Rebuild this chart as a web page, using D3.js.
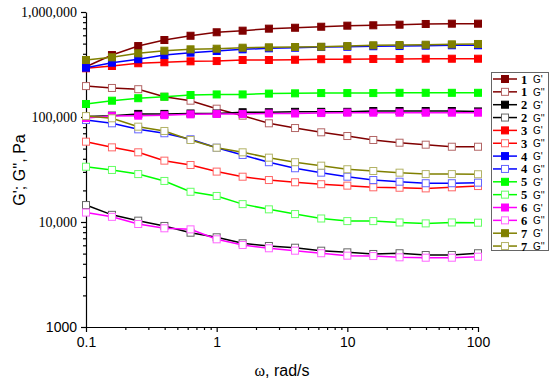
<html>
  <head>
    <script src="https://d3js.org/d3.v7.min.js"></script>
    <style>
      body { margin: 0; background: #fff; }
    </style>
  </head>
  <body>
    <div id="dataviz"></div>
    <script>
      // angular frequency, rad/s
      var omega = [0.1, 0.158, 0.251, 0.398, 0.631, 1, 1.58, 2.51, 3.98, 6.31, 10, 15.8, 25.1, 39.8, 63.1, 100];

      var sampleIds = ["1", "2", "3", "4", "5", "6", "7"];
      var sampleColors = ["#800000", "#000000", "#ff0000", "#0000ff", "#00ff00", "#ff00ff", "#808000"];

      // storage modulus G'
      var gPrime1 = [301000, 389000, 474000, 541000, 594000, 641000, 664000, 694000, 708000, 724000, 741000, 747000, 757000, 769000, 774000, 774000];
      var gPrime2 = [101000, 103000, 107000, 107000, 108000, 108000, 111000, 111000, 112000, 112000, 112000, 114000, 114000, 114000, 114000, 113000];
      var gPrime3 = [291000, 306000, 325000, 332000, 339000, 341000, 349000, 349000, 351000, 355000, 355000, 357000, 357000, 359000, 359000, 359000];
      var gPrime4 = [295000, 329000, 355000, 389000, 410000, 425000, 441000, 451000, 457000, 464000, 467000, 472000, 474000, 478000, 482000, 482000];
      var gPrime5 = [133000, 143000, 151000, 156000, 162000, 164000, 164000, 167000, 168000, 169000, 169000, 169000, 170000, 170000, 170000, 170000];
      var gPrime6 = [97700, 102000, 103000, 104000, 106000, 107000, 107000, 108000, 108000, 109000, 110000, 110000, 110000, 110000, 110000, 110000];
      var gPrime7 = [349000, 370000, 404000, 428000, 441000, 447000, 457000, 461000, 464000, 467000, 474000, 482000, 485000, 488000, 492000, 496000];

      // loss modulus G''
      var gDouble1 = [197000, 189000, 184000, 156000, 143000, 120000, 103000, 87100, 78500, 71500, 65900, 60400, 56900, 54500, 52100, 52100];
      var gDouble2 = [14500, 11700, 10300, 9170, 7910, 7150, 6270, 5910, 5690, 5330, 5140, 4960, 5040, 4850, 4850, 5040];
      var gDouble3 = [58200, 51400, 46100, 38400, 34900, 30200, 27000, 25100, 23900, 22900, 22200, 21400, 21200, 20900, 21400, 22000];
      var gDouble4 = [93600, 87100, 76300, 70000, 61400, 51000, 43500, 37100, 32500, 29500, 27000, 25100, 24200, 23400, 23400, 23700];
      var gDouble5 = [33600, 31300, 28600, 24600, 19400, 17700, 14800, 13200, 11900, 10800, 10200, 10200, 9900, 9700, 9900, 9850];
      var gDouble6 = [12300, 11200, 9570, 8710, 8510, 6840, 6040, 5620, 5330, 5040, 4780, 4740, 4610, 4570, 4570, 4670];
      var gDouble7 = [102000, 97200, 80900, 73600, 60400, 51000, 46100, 41000, 37100, 34400, 31800, 30600, 29500, 28600, 28600, 28500];

      var gPrime = [gPrime1, gPrime2, gPrime3, gPrime4, gPrime5, gPrime6, gPrime7];
      var gDouble = [gDouble1, gDouble2, gDouble3, gDouble4, gDouble5, gDouble6, gDouble7];

      var xMajorTicks = [0.1, 1, 10, 100];
      var xTickLabels = ["0.1", "1", "10", "100"];
      var yMajorTicks = [1000, 10000, 100000, 1000000];
      var yTickLabels = ["1000", "10,000", "100,000", "1,000,000"];

      var W = 550, H = 381;
      var svg = d3.select("#dataviz").append("svg")
        .attr("width", W).attr("height", H);

      var x = d3.scaleLog().domain([0.1, 100]).range([86, 478]);
      var y = d3.scaleLog().domain([1000, 1000000]).range([327, 12]);

      function minors(lo, hi) {
        var out = [];
        for (var d = lo; d < hi; d *= 10) {
          for (var k = 2; k <= 9; k++) out.push(d * k);
        }
        return out;
      }

      // x axis
      svg.append("g")
        .attr("transform", "translate(0,327)")
        .call(d3.axisBottom(x).tickValues(minors(0.1, 100)).tickSize(3).tickFormat(""))
        .call(function(g) { g.select(".domain").remove(); });
      var xAxis = svg.append("g")
        .attr("transform", "translate(0,327)")
        .call(d3.axisBottom(x).tickValues(xMajorTicks).tickSizeInner(5).tickSizeOuter(0)
          .tickFormat(function(d, i) { return xTickLabels[i]; }));
      xAxis.selectAll("text")
        .attr("y", 10)
        .style("font-family", "Arial, 'Liberation Sans', sans-serif")
        .style("font-size", "14px")
        .attr("fill", "#000");

      // y axis
      svg.append("g")
        .attr("transform", "translate(86,0)")
        .call(d3.axisLeft(y).tickValues(minors(1000, 1000000)).tickSize(3).tickFormat(""))
        .call(function(g) { g.select(".domain").remove(); });
      var yAxis = svg.append("g")
        .attr("transform", "translate(86,0)")
        .call(d3.axisLeft(y).tickValues(yMajorTicks).tickSizeInner(5).tickSizeOuter(0)
          .tickFormat(function(d, i) { return yTickLabels[i]; }));
      yAxis.selectAll("text")
        .attr("x", -9)
        .attr("fill", "#000")
        .style("font-size", "14px")
        .style("font-family", function(d) {
          return d === 1000 ? "Arial, 'Liberation Sans', sans-serif" : "'Times New Roman', 'Liberation Serif', serif";
        });
      svg.selectAll(".domain, .tick line").attr("stroke", "#000").attr("stroke-width", 1.2);

      // axis titles
      svg.append("text")
        .attr("transform", "translate(25,170) rotate(-90)")
        .attr("text-anchor", "middle")
        .style("font-family", "Arial, 'Liberation Sans', sans-serif")
        .style("font-size", "16px")
        .text("G'; G'', Pa");

      var xt = svg.append("text")
        .attr("x", 282).attr("y", 376)
        .attr("text-anchor", "middle")
        .style("font-size", "16px");
      xt.append("tspan").style("font-family", "'Times New Roman', 'Liberation Serif', serif").text("ω");
      xt.append("tspan").style("font-family", "Arial, 'Liberation Sans', sans-serif").text(", rad/s");

      function light(c) { return d3.interpolateRgb(c, "#fff")(0.4); }

      var line = d3.line()
        .x(function(d, i) { return x(omega[i]); })
        .y(function(d) { return y(d); });

      var ms = 7;
      function drawSeries(vals, color, open) {
        var g = svg.append("g");
        g.append("path")
          .datum(vals)
          .attr("fill", "none")
          .attr("stroke", color)
          .attr("stroke-width", 1.5)
          .attr("d", line);
        g.selectAll("rect")
          .data(vals)
          .enter().append("rect")
          .attr("x", function(d, i) { return x(omega[i]) - ms / 2; })
          .attr("y", function(d) { return y(d) - ms / 2; })
          .attr("width", ms).attr("height", ms)
          .attr("fill", open ? "#fff" : color)
          .attr("stroke", open ? light(color) : color)
          .attr("stroke-width", 1);
      }

      sampleIds.forEach(function(id, k) {
        drawSeries(gPrime[k], sampleColors[k], false);
        drawSeries(gDouble[k], sampleColors[k], true);
      });

      // legend
      var lg = svg.append("g");
      lg.append("rect")
        .attr("x", 491.5).attr("y", 72.5)
        .attr("width", 57).attr("height", 178)
        .attr("fill", "#fff").attr("stroke", "#666").attr("stroke-width", 1);
      var rowH = 12.85;
      sampleIds.forEach(function(id, k) {
        [false, true].forEach(function(open, j) {
          var cy = 79 + (k * 2 + j) * rowH;
          var c = sampleColors[k];
          lg.append("line")
            .attr("x1", 493).attr("x2", 517)
            .attr("y1", cy).attr("y2", cy)
            .attr("stroke", c).attr("stroke-width", 1.5);
          lg.append("rect")
            .attr("x", 505 - 3.5).attr("y", cy - 3.5)
            .attr("width", 7).attr("height", 7)
            .attr("fill", open ? "#fff" : c)
            .attr("stroke", open ? light(c) : c);
          lg.append("text")
            .attr("x", 521).attr("y", cy + 4.5)
            .style("font-family", "'Times New Roman', 'Liberation Serif', serif")
            .style("font-weight", "bold")
            .style("font-size", "12.5px")
            .text(id);
          lg.append("text")
            .attr("x", 533).attr("y", cy + 4)
            .style("font-family", "Arial, 'Liberation Sans', sans-serif")
            .style("font-size", "10px")
            .text(open ? "G''" : "G'");
        });
      });
    </script>
  </body>
</html>
